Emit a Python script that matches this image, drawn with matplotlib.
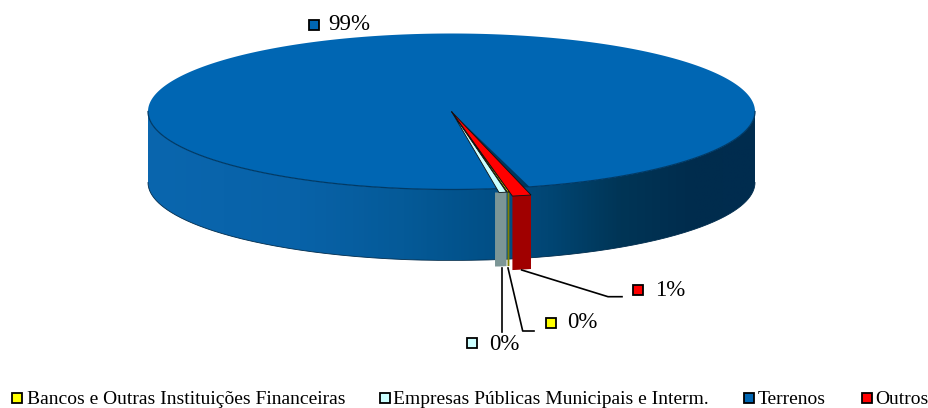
import numpy as np
import matplotlib.pyplot as plt
from matplotlib.patches import Polygon, Rectangle
from matplotlib.colors import LinearSegmentedColormap

plt.rcParams['font.family'] = 'Liberation Serif'

# Data
categories = ['Bancos e Outras Instituições Financeiras',
              'Empresas Públicas Municipais e Interm.',
              'Terrenos', 'Outros']
values = [0.1, 0.4, 98.5, 1.0]
labels = ['0%', '0%', '99%', '1%']
top_colors = ['#ffff00', '#ccffff', '#0066b3', '#ff0000']
side_colors = ['#808000', '#7c9696', '#0066b3', '#a00000']

# Pie geometry, in pixels
cx, cy = 451.5, 111.5
a, b = 303.5, 78.0
depth = 71.0
start = 9.2  # degrees from the front of the pie

fig = plt.figure(figsize=(9.29, 4.08), dpi=100)
ax = fig.add_axes([0, 0, 1, 1])
ax.set_xlim(0, 929)
ax.set_ylim(408, 0)
ax.axis('off')


def rim(t0, t1, n=400):
    t = np.radians(np.linspace(t0, t1, n))
    return cx + a*np.sin(t), cy + b*np.cos(t)


# Angle ranges
order = [1, 0, 3]
angles = {}
t0 = start
for i in order:
    t1 = t0 + values[i]*3.6
    angles[i] = (t0, t1)
    t0 = t1
angles[2] = (t0, start + 360)

# Terrenos side wall, shaded along x
xs, ys = rim(-90, 90)
wall = np.column_stack([np.r_[xs, xs[::-1]], np.r_[ys, ys[::-1] + depth]])
shade = LinearSegmentedColormap.from_list('side', [
    (0.0, '#0a66ae'), (0.25, '#0862a8'), (0.42, '#055a98'), (0.57, '#014f86'),
    (0.66, '#014674'), (0.78, '#003556'), (0.9, '#002c4d'), (1.0, '#002c4f')])
im = ax.imshow(np.linspace(0, 1, 400)[None, :], cmap=shade, aspect='auto',
               extent=(cx - a, cx + a, cy + depth + b, cy - b), zorder=1)
clip = Polygon(wall, closed=True, transform=ax.transData, fill=False, edgecolor='none')
ax.add_patch(clip)
im.set_clip_path(clip)
ax.set_xlim(0, 929)
ax.set_ylim(408, 0)
ax.plot(xs, ys + depth, color='#002c4d', lw=0.6, zorder=1.5)

# Terrenos top
t0, t1 = angles[2]
xs, ys = rim(t0, t1, 800)
ax.add_patch(Polygon(np.column_stack([np.r_[cx, xs], np.r_[cy, ys]]),
                     facecolor=top_colors[2], edgecolor='none', zorder=2))
fx, fy = rim(-90, 90)
ax.plot(fx, fy, color='#003a66', lw=0.9, zorder=2.1)

# Dark gap under the small slices
xs, ys = rim(start - 0.3, angles[2][0] + 0.3, 30)
ax.add_patch(Polygon(np.column_stack([np.r_[cx, xs], np.r_[cy, ys]]),
                     facecolor='#00365c', edgecolor='none', zorder=2.2))

# Small slices, pushed a bit out of the pie
shift_x = {0: 0, 1: -1, 3: 3}
shift_y = {0: 4, 1: 4, 3: 8}
small_depth = 74.0
for i in order:
    t0, t1 = angles[i]
    xs, ys = rim(t0, t1, 30)
    xs = xs + shift_x[i]
    ys = ys + shift_y[i]
    fxs = xs
    if i == 1:
        # the cut face shows to the left of the Empresas slice
        fxs = np.r_[xs[0] - 4, xs[1:]]
    front = np.column_stack([np.r_[fxs, fxs[::-1]], np.r_[ys, ys[::-1] + small_depth]])
    ax.add_patch(Polygon(front, facecolor=side_colors[i], edgecolor='none', zorder=3))
    ax.add_patch(Polygon(np.column_stack([np.r_[cx, xs], np.r_[cy, ys]]),
                         facecolor=top_colors[i], edgecolor='#101010', lw=0.6, zorder=4))

# Data labels: leader line, key, text
key_pos = [(551.5, 322.5), (472.5, 342.5), (314, 24.5), (638, 289.5)]
text_pos = [(567, 323), (489, 344), (328, 25), (655, 290)]
leaders = [[(508, 268), (522.7, 331), (534, 331)],
           [(501.7, 268), (501.7, 331.7)],
           None,
           [(521.7, 270), (608, 296.7), (622, 296.7)]]
for i in range(4):
    if leaders[i] is not None:
        lx, ly = zip(*leaders[i])
        ax.plot(lx, ly, color='black', lw=1.2, zorder=5)
    kx, ky = key_pos[i]
    ax.add_patch(Rectangle((kx - 5, ky - 5), 10, 10, facecolor=top_colors[i],
                           edgecolor='black', lw=1.3, zorder=6))
    ax.text(text_pos[i][0], text_pos[i][1], labels[i], fontsize=16.5,
            ha='left', va='center', zorder=6)

# Legend
legend_key_x = [17.5, 385, 749.5, 867.5]
legend_text_x = [27, 393, 758, 875.5]
for i in range(4):
    ax.add_patch(Rectangle((legend_key_x[i] - 5, 393), 10, 10, facecolor=top_colors[i],
                           edgecolor='black', lw=1.3, zorder=6))
    ax.text(legend_text_x[i], 399, categories[i], fontsize=14, ha='left', va='center')

fig.savefig('out.png', dpi=100)
